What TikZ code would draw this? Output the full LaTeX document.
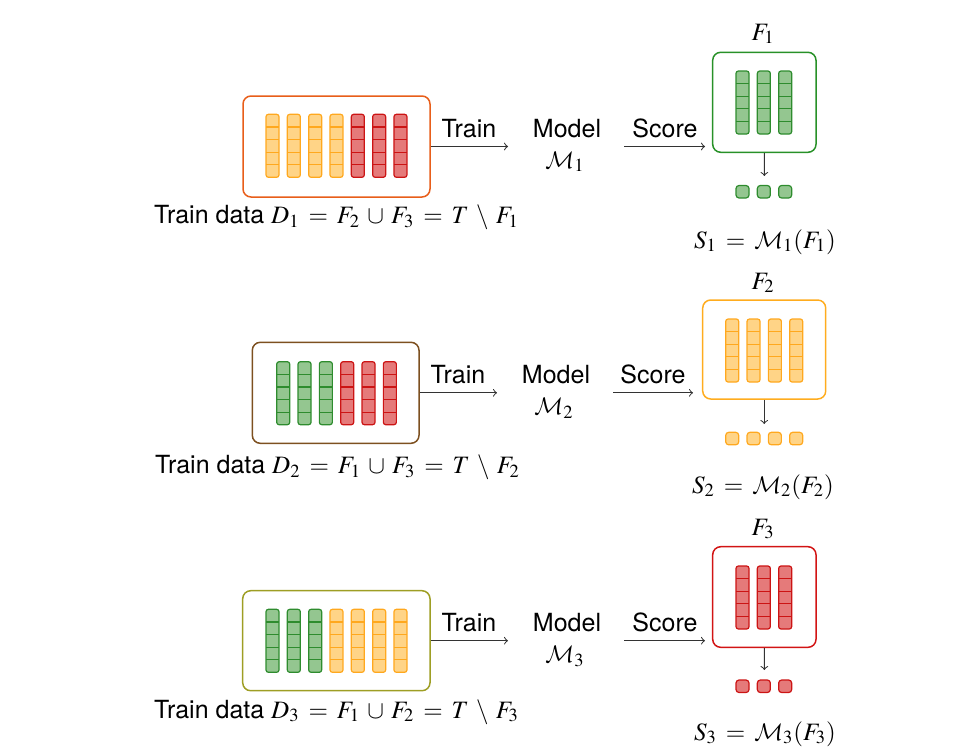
\documentclass[tikz,border=0pt]{standalone}
\usepackage{mathptmx}
\DeclareMathAlphabet{\mathcal}{OMS}{cmsy}{m}{n}
\usepackage[no-math]{fontspec}
\setmainfont{TeX Gyre Heros}
\usetikzlibrary{fit}
\definecolor{yfill}{RGB}{255,212,135}
\definecolor{ydraw}{RGB}{255,168,30}
\definecolor{rfill}{RGB}{229,122,122}
\definecolor{rdraw}{RGB}{204,20,20}
\definecolor{gfill}{RGB}{148,198,144}
\definecolor{gdraw}{RGB}{46,140,46}
\definecolor{orangebox}{RGB}{232,94,26}
\definecolor{brownbox}{RGB}{125,80,32}
\definecolor{olivebox}{RGB}{158,158,36}
\definecolor{greenbox}{RGB}{40,145,40}
\definecolor{yellowbox}{RGB}{255,172,30}
\definecolor{redbox}{RGB}{210,20,20}
\newcommand\cellcol[4]{%
  \draw[fill=#3, draw=#4, line width=0.6pt, rounded corners=1.2pt] (#1,#2) rectangle ++(13,63);
  \foreach \k in {1,...,4} {\draw[#4, line width=0.6pt] (#1,#2+\k*12.6) -- ++(13,0);}
}
\newcommand\smallsq[4]{%
  \draw[fill=#3, draw=#4, line width=0.6pt, rounded corners=1.5pt] (#1,#2) rectangle ++(13,12.5);
}
\newcommand\widemath{\thickmuskip=6.5mu\medmuskip=5.25mu}
\tikzset{
  bigbox/.style={draw, line width=0.75pt, rounded corners=4pt, inner sep=0pt},
  arr/.style={->, line width=0.5pt, draw=black!80},
  txt/.style={font=\fontsize{12.5}{15}\selectfont\widemath, inner sep=0pt, anchor=base},
}
\begin{document}
\begin{tikzpicture}[x=0.5pt, y=-0.5pt]
\useasboundingbox (0,0) rectangle (977,755);

% ---------------- Row 1 ----------------
\node[bigbox, draw=orangebox, fit={(243,96) (430,197)}] (b1) {};
\foreach \i in {0,...,3} {\cellcol{266+\i*21.33}{114.3}{yfill}{ydraw}}
\foreach \i in {4,...,6} {\cellcol{266+\i*21.33}{114.3}{rfill}{rdraw}}
\node[txt] (l1) at (336.5,223.5) {Train data $D_1 = F_2 \cup F_3 = T \setminus F_1$};
\coordinate (t1) at (508,146.5);
\draw[arr] (b1) -- (t1);
\node[txt] (tr1) at (469,137) {Train};
\node[txt] (m1) at (567,137) {Model};
\node[txt] (mm1) at (565,168) {$\mathcal{M}_1$};
\coordinate (s1) at (624,146.5);
\coordinate (e1) at (705,146.5);
\draw[arr] (s1) -- (e1);
\node[txt] (sc1) at (665,137) {Score};
\node[bigbox, draw=greenbox, fit={(712.7,52.3) (816,152.3)}] (f1) {};
\foreach \i in {0,...,2} {\cellcol{736+\i*21.33}{71}{gfill}{gdraw}}
\node[txt] (fl1) at (763,40) {$F_1$};
\coordinate (d1) at (764.35,176);
\draw[arr] (f1) -- (d1);
\foreach \i in {0,...,2} {\smallsq{736+\i*21.33}{185.5}{gfill}{gdraw}}
\node[txt] (sl1) at (765,248) {$S_1 = \mathcal{M}_1(F_1)$};

% ---------------- Row 2 ----------------
\node[bigbox, draw=brownbox, fit={(252.3,342.3) (419,443.3)}] (b2) {};
\foreach \i in {0,...,2} {\cellcol{276.7+\i*21.33}{361.7}{gfill}{gdraw}}
\foreach \i in {3,...,5} {\cellcol{276.7+\i*21.33}{361.7}{rfill}{rdraw}}
\node[txt] (l2) at (337.5,473.3) {Train data $D_2 = F_1 \cup F_3 = T \setminus F_2$};
\coordinate (t2) at (497,392.8);
\draw[arr] (b2) -- (t2);
\node[txt] (tr2) at (458,383.5) {Train};
\node[txt] (m2) at (556,383.5) {Model};
\node[txt] (mm2) at (554,414.5) {$\mathcal{M}_2$};
\coordinate (s2) at (613,392.8);
\coordinate (e2) at (693,392.8);
\draw[arr] (s2) -- (e2);
\node[txt] (sc2) at (653,383.5) {Score};
\node[bigbox, draw=yellowbox, fit={(702.7,300) (825.7,399)}] (f2) {};
\foreach \i in {0,...,3} {\cellcol{725.7+\i*21.33}{319}{yfill}{ydraw}}
\node[txt] (fl2) at (763,289) {$F_2$};
\coordinate (d2) at (764.2,424);
\draw[arr] (f2) -- (d2);
\foreach \i in {0,...,3} {\smallsq{725.7+\i*21.33}{432.3}{yfill}{ydraw}}
\node[txt] (sl2) at (763,493) {$S_2 = \mathcal{M}_2(F_2)$};

% ---------------- Row 3 ----------------
\node[bigbox, draw=olivebox, fit={(242.7,590.7) (430,690.7)}] (b3) {};
\foreach \i in {0,...,2} {\cellcol{266+\i*21.33}{609.3}{gfill}{gdraw}}
\foreach \i in {3,...,6} {\cellcol{266+\i*21.33}{609.3}{yfill}{ydraw}}
\node[txt] (l3) at (336.5,718) {Train data $D_3 = F_1 \cup F_2 = T \setminus F_3$};
\coordinate (t3) at (508,640.7);
\draw[arr] (b3) -- (t3);
\node[txt] (tr3) at (469,631.5) {Train};
\node[txt] (m3) at (567,631.5) {Model};
\node[txt] (mm3) at (565,662.5) {$\mathcal{M}_3$};
\coordinate (s3) at (624,640.7);
\coordinate (e3) at (705,640.7);
\draw[arr] (s3) -- (e3);
\node[txt] (sc3) at (665,631.5) {Score};
\node[bigbox, draw=redbox, fit={(712.7,546.7) (816,647.3)}] (f3) {};
\foreach \i in {0,...,2} {\cellcol{736+\i*21.33}{566}{rfill}{rdraw}}
\node[txt] (fl3) at (763,535) {$F_3$};
\coordinate (d3) at (764.35,670);
\draw[arr] (f3) -- (d3);
\foreach \i in {0,...,2} {\smallsq{736+\i*21.33}{680}{rfill}{rdraw}}
\node[txt] (sl3) at (765,740) {$S_3 = \mathcal{M}_3(F_3)$};
\end{tikzpicture}
\end{document}
